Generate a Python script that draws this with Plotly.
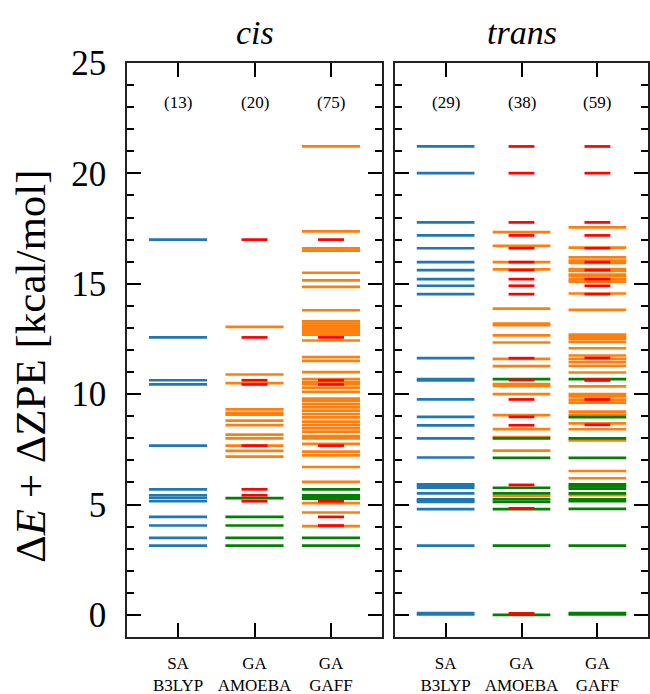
import plotly.graph_objects as go

# ---------------- data ----------------
panels = ["cis", "trans"]
methods = ["SA<br>B3LYP", "GA<br>AMOEBA", "GA<br>GAFF"]
counts_cis = ["(13)", "(20)", "(75)"]
counts_trans = ["(29)", "(38)", "(59)"]

cis_b3lyp = [17.0, 12.57, 10.63, 10.44, 7.67, 5.69, 5.42, 5.30, 5.15, 4.44, 4.05, 3.49, 3.14]
cis_amoeba_orange = [13.05, 10.89, 10.50, 9.31, 9.15, 9.07, 8.80, 8.60, 8.17, 8.00, 7.67, 7.43, 7.17]
cis_amoeba_green = [5.29, 4.44, 4.05, 3.49, 3.14]
cis_amoeba_red = [17.0, 12.57, 10.63, 10.44, 7.67, 5.69, 5.42, 5.15]
cis_gaff_orange = [21.22, 17.37, 16.6, 16.5, 15.5, 15.15, 14.86, 13.8, 13.3, 13.2, 13.1, 13.0,
                   12.9, 12.8, 12.7, 12.43, 11.68, 11.51, 11.0, 10.68, 10.55, 10.45, 10.3, 10.1,
                   9.8, 9.7, 9.55, 9.4, 9.25, 9.1, 8.95, 8.76, 8.6, 8.45, 8.3, 8.1, 8.0, 7.75,
                   7.4, 7.23, 6.7, 6.03, 5.06, 4.64, 4.02]
cis_gaff_green = [5.69, 5.42, 5.35, 5.27, 3.49, 3.14]
cis_gaff_red = [17.0, 12.57, 10.63, 10.44, 7.67, 5.15, 4.44, 4.05]

trans_b3lyp = [21.22, 20.01, 17.78, 17.19, 16.61, 15.98, 15.62, 15.21, 14.91, 14.53, 11.63,
               10.68, 10.62, 9.76, 8.97, 8.59, 8.0, 7.13, 5.92, 5.85, 5.76, 5.51, 5.24, 5.18,
               5.12, 4.79, 3.14, 0.08, 0.02]
trans_amoeba_orange = [17.34, 16.72, 15.98, 15.65, 13.87, 13.2, 13.12, 12.66, 12.34, 11.6,
                       11.27, 10.45, 10.37, 10.0, 9.05, 8.42, 8.05, 7.44, 5.39]
trans_amoeba_green = [10.68, 8.0, 7.11, 5.76, 5.51, 5.24, 5.12, 4.79, 3.14, 0.0]
trans_amoeba_red = [21.22, 20.01, 17.78, 17.19, 16.61, 15.98, 15.62, 15.21, 14.91, 14.53,
                    11.63, 10.64, 9.76, 8.97, 8.59, 5.89, 4.83, 0.07]
trans_gaff_orange = [17.55, 16.64, 16.2, 16.05, 15.95, 15.66, 15.58, 15.42, 15.35, 15.2, 15.1,
                     14.56, 13.82, 12.7, 12.6, 12.5, 12.37, 12.08, 11.75, 11.6, 11.45, 11.28,
                     10.98, 10.35, 10.0, 9.9, 9.75, 9.62, 9.21, 9.06, 8.68, 8.41, 7.9, 6.52,
                     6.19, 5.42]
trans_gaff_green = [10.68, 8.96, 8.0, 7.11, 5.92, 5.82, 5.72, 5.51, 5.24, 5.15, 4.8, 3.14, 0.08, 0.02]
trans_gaff_red = [21.22, 20.01, 17.78, 17.19, 16.61, 15.98, 15.62, 15.21, 14.91, 14.53, 11.64,
                  10.66, 10.62, 9.76, 8.61]

BLUE, ORANGE, GREEN, RED = "#1f77b4", "#ff7f0e", "#008000", "#ff0000"
FONT = "Liberation Serif"

fig = go.Figure()


def add_levels(values, xc, half, color, xa, ya):
    xs, ys = [], []
    for v in values:
        xs += [xc - half, xc + half, None]
        ys += [v, v, None]
    fig.add_trace(go.Scatter(x=xs, y=ys, mode="lines", line=dict(color=color, width=2.7),
                             xaxis=xa, yaxis=ya, showlegend=False, hoverinfo="skip"))


W, WR = 0.38, 0.17
# cis panel
add_levels(cis_b3lyp, 0, W, BLUE, "x", "y")
add_levels(cis_amoeba_orange, 1, W, ORANGE, "x", "y")
add_levels(cis_amoeba_green, 1, W, GREEN, "x", "y")
add_levels(cis_amoeba_red, 1, WR, RED, "x", "y")
add_levels(cis_gaff_orange, 2, W, ORANGE, "x", "y")
add_levels(cis_gaff_green, 2, W, GREEN, "x", "y")
add_levels(cis_gaff_red, 2, WR, RED, "x", "y")
# trans panel
add_levels(trans_b3lyp, 0, W, BLUE, "x2", "y2")
add_levels(trans_amoeba_orange, 1, W, ORANGE, "x2", "y2")
add_levels(trans_amoeba_green, 1, W, GREEN, "x2", "y2")
add_levels(trans_amoeba_red, 1, WR, RED, "x2", "y2")
add_levels(trans_gaff_orange, 2, W, ORANGE, "x2", "y2")
add_levels(trans_gaff_green, 2, W, GREEN, "x2", "y2")
add_levels(trans_gaff_red, 2, WR, RED, "x2", "y2")

ydom = [57 / 694, 631 / 694]
common_x = dict(range=[-0.667, 2.667], tickmode="array", tickvals=[0, 1, 2], ticktext=methods,
                ticks="inside", ticklen=14, tickwidth=1.8, tickcolor="black",
                showline=True, linecolor="#222", linewidth=1.6, mirror="ticks",
                showgrid=False, zeroline=False, automargin=False,
                tickfont=dict(family=FONT, size=17, color="black"), ticklabelstandoff=10)
common_y = dict(range=[-1, 25], tickmode="linear", tick0=0, dtick=5,
                ticks="inside", ticklen=14, tickwidth=1.8, tickcolor="black",
                minor=dict(tickmode="linear", tick0=0, dtick=1, ticks="inside", ticklen=7,
                           tickwidth=1.5, tickcolor="black", showgrid=False),
                showline=True, linecolor="#222", linewidth=1.6, mirror="ticks",
                showgrid=False, zeroline=False, automargin=False, domain=ydom)

fig.update_layout(
    width=650, height=694, margin=dict(l=0, r=0, t=0, b=0, autoexpand=False),
    paper_bgcolor="white", plot_bgcolor="white",
    xaxis=dict(common_x, domain=[127 / 650, 382 / 650], anchor="y"),
    xaxis2=dict(common_x, domain=[395 / 650, 648 / 650], anchor="y2"),
    yaxis=dict(common_y, anchor="x", tickfont=dict(family=FONT, size=35, color="black"),
               ticklabelstandoff=12),
    yaxis2=dict(common_y, anchor="x2", showticklabels=False),
)

for xa, ya, cnts in [("x", "y", counts_cis), ("x2", "y2", counts_trans)]:
    for i, c in enumerate(cnts):
        fig.add_annotation(x=i, y=23.2, xref=xa, yref=ya, text=c, showarrow=False,
                           font=dict(family=FONT, size=17, color="black"))

fig.add_annotation(x=(127 + 382) / 2 / 650, y=1 - 32 / 694, xref="paper", yref="paper",
                   xanchor="center", yanchor="middle",
                   text="<i>cis</i>", showarrow=False,
                   font=dict(family=FONT, size=34, color="black"))
fig.add_annotation(x=(395 + 648) / 2 / 650, y=1 - 32 / 694, xref="paper", yref="paper",
                   xanchor="center", yanchor="middle",
                   text="<i>trans</i>", showarrow=False,
                   font=dict(family=FONT, size=34, color="black"))
fig.add_annotation(x=30 / 650, y=1 - 366 / 694, xref="paper", yref="paper",
                   xanchor="center", yanchor="middle",
                   text="Δ<i>E</i> + ΔZPE [kcal/mol]", textangle=-90, showarrow=False,
                   font=dict(family=FONT, size=43, color="black"))

fig.write_html("out.html")
